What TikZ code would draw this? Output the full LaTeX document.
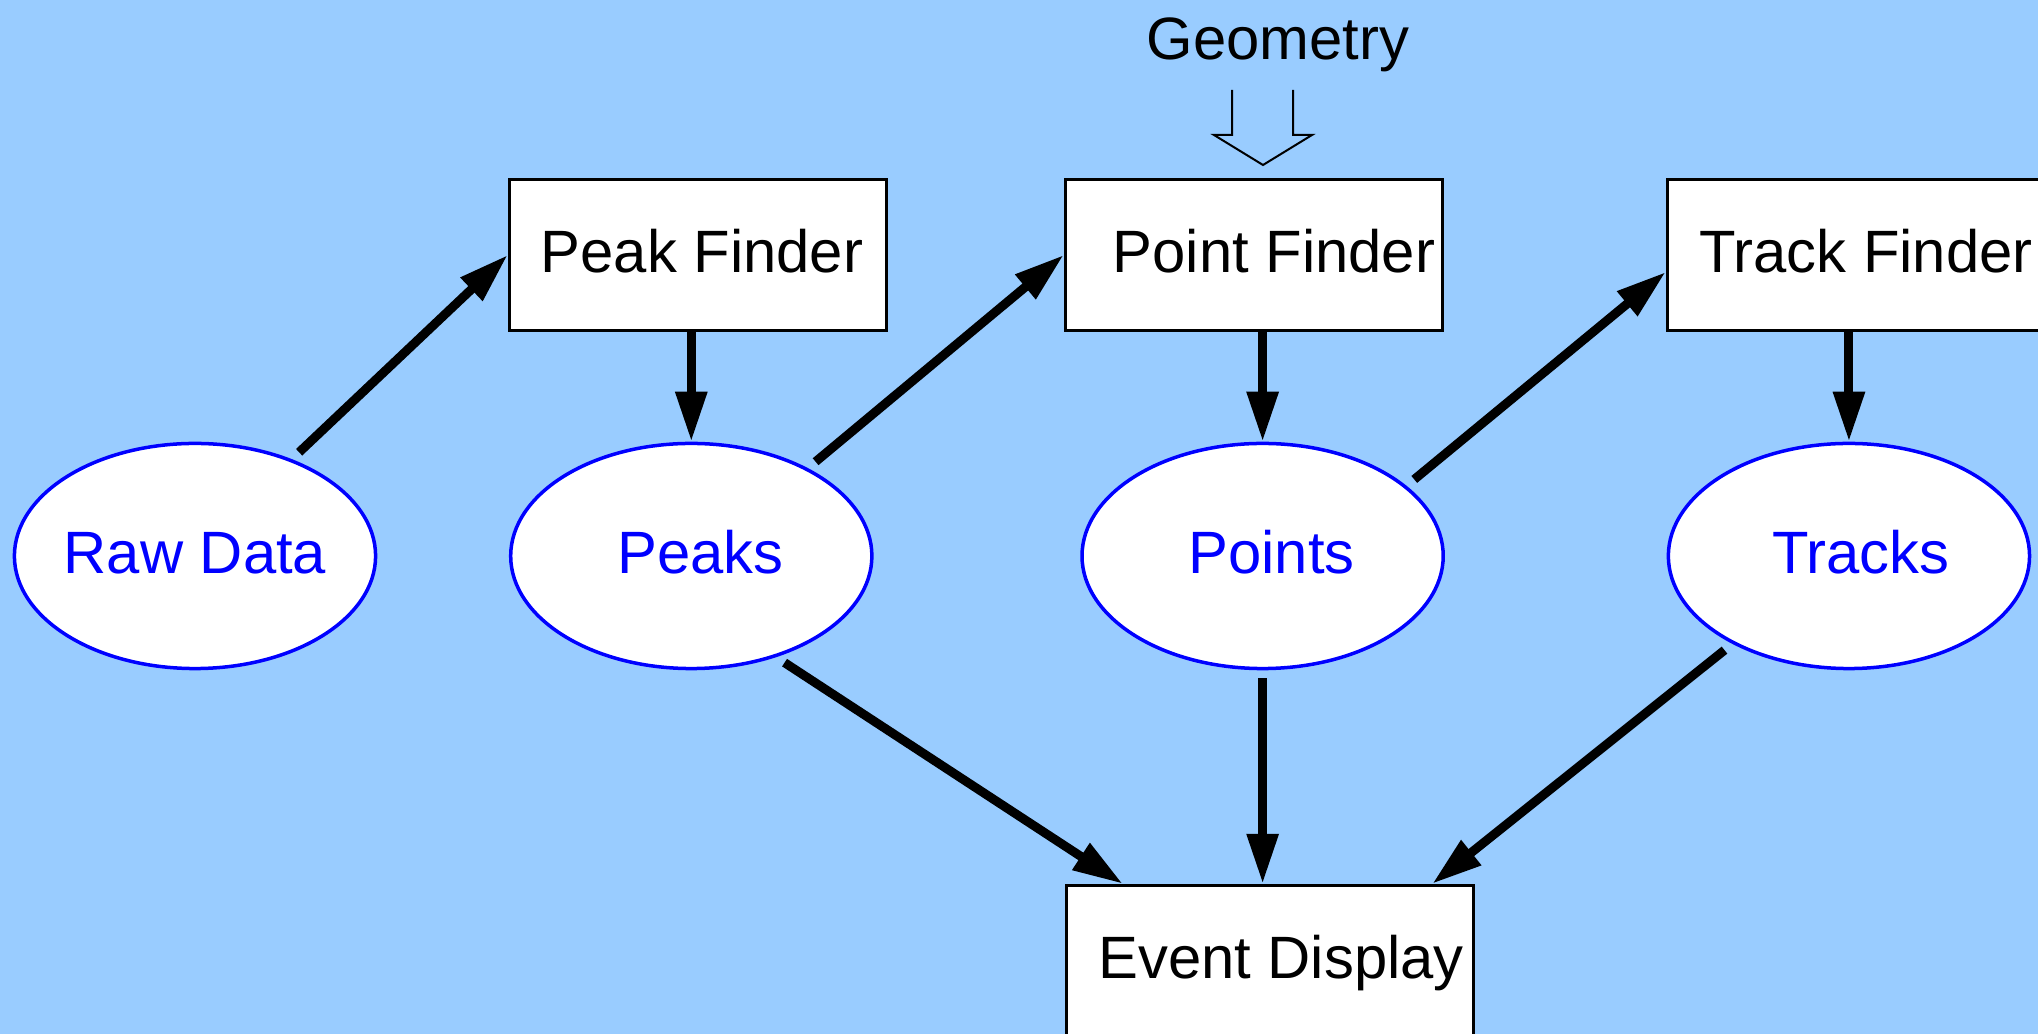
\documentclass[tikz,border=0pt]{standalone}
\usepackage{fontspec}
\setmainfont{Liberation Sans}
\usetikzlibrary{shapes.geometric}
\usetikzlibrary{positioning,arrows.meta}
\definecolor{bgblue}{HTML}{99CCFF}

\begin{document}
\begin{tikzpicture}[
    x=0.01cm, y=-0.01cm,
    font=\fontsize{17}{20}\selectfont,
    data/.style={ellipse, draw=blue, line width=0.035cm, fill=white, text=blue, minimum width=3.61cm, minimum height=2.25cm, inner xsep=-0.5cm, text height=0.45cm, text depth=0.1cm},
    finder/.style={rectangle, draw=black, line width=0.033cm, fill=white, minimum width=3.77cm, minimum height=1.51cm, inner xsep=0.05cm, text height=0.45cm, text depth=0.1cm},
    nudge/.style={execute at begin node=\hspace*{#1}},
    flow/.style={line width=0.09cm, -{Triangle[length=0.5cm,width=0.3cm]}},
    node distance=5cm
    ]
    \clip (0,0) rectangle (2038,1034);
    \fill[bgblue] (0,0) rectangle (2038,1034);

    %% Data products
    \node[data](raw) at (195,556){Raw Data};
    \node[data, nudge=0.18cm](peaks)[right of=raw, node distance=4.96cm]{Peaks};
    \node[data, nudge=0.18cm](points)[right of=peaks, node distance=5.71cm]{Points};
    \node[data, nudge=0.24cm](tracks)[right of=points, node distance=5.86cm]{Tracks};

    %% Finders and display
    \node[finder, nudge=0.08cm](pf) at (698,255){Peak Finder};
    \node[finder, nudge=0.4cm](ptf) at (1254,255){Point Finder};
    \node[finder, nudge=0.2cm](tf) at (1856,255){Track Finder};
    \node[finder, nudge=0.22cm, minimum width=4.07cm](ed) at (1270,961){Event Display};

    %% Geometry input
    \node(geo)[anchor=base] at (1278,60){Geometry};
    \draw[line width=0.02cm] (1232,90) -- (1232,135) -- (1214,135) -- (1263,165) -- (1312,135) -- (1293,135) -- (1293,90);

    %% Flow of data
    \draw[flow, shorten <=0.1cm] (raw.45) -- (pf.west);
    \draw[flow] (pf.south -| peaks.north) -- (peaks.north);
    \draw[flow, shorten <=0.1cm] (peaks.37) -- (ptf.west);
    \draw[flow] (ptf.south -| points.north) -- (points.north);
    \draw[flow, shorten <=0.1cm] (points.26) -- ([yshift=-0.17cm]tf.west);
    \draw[flow] (tf.south -| tracks.north) -- (tracks.north);

    % everything ends up in the display
    \draw[flow, shorten <=0.1cm] (peaks.-50) -- ([xshift=0.58cm]ed.north west);
    \draw[flow] ([yshift=-0.08cm]points.south) -- (points.south |- ed.north);
    \draw[flow, shorten <=0.1cm] (tracks.217) -- ([xshift=-0.43cm]ed.north east);
\end{tikzpicture}
\end{document}
